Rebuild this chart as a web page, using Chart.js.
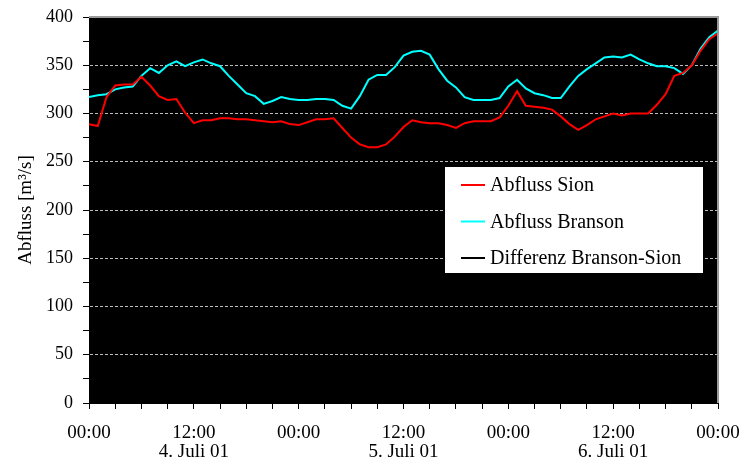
<!DOCTYPE html>
<html>
<head>
<meta charset="utf-8">
<script src="https://cdn.jsdelivr.net/npm/chart.js@4/dist/chart.umd.min.js"></script>
<style>
  body { margin: 0; background: #fff; }
  canvas { display: block; }
</style>
</head>
<body>
<canvas id="chart" width="743" height="465"></canvas>
<script>
// hours since 3 July 00:00, one reading per hour
const hours = Array.from({ length: 73 }, (_, i) => i);

const sion = [
  289, 287, 317, 329, 330, 330, 338, 329, 318, 314, 315, 301, 290,
  293, 293, 295, 295, 294, 294, 293, 292, 291, 292, 289, 288,
  291, 294, 294, 295, 285, 275, 268, 265, 265, 268, 276, 286,
  293, 291, 290, 290, 288, 285, 290, 292, 292, 292, 296, 308,
  323, 308, 307, 306, 304, 297, 289, 283, 288, 294, 297, 300,
  298, 300, 300, 300, 309, 320, 339, 342, 350, 365, 377, 383
];
const branson = [
  317, 319, 320, 325, 327, 328, 339, 347, 342, 350, 354, 349, 353,
  356, 352, 349, 339, 330, 321, 318, 310, 313, 317, 315, 314,
  314, 315, 315, 314, 308, 305, 318, 335, 340, 340, 348, 360,
  364, 365, 361, 346, 334, 327, 317, 314, 314, 314, 316, 328,
  335, 326, 321, 319, 316, 316, 328, 339, 346, 352, 358, 359,
  358, 361, 356, 352, 349, 349, 347, 341, 350, 367, 379, 386
];
const differenz = []; // black on black, not visible in the original

const seriesNames = ['Abfluss Sion', 'Abfluss Branson', 'Differenz Branson-Sion'];
const timeLabels = ['00:00', '12:00'];
const dayLabels = ['4. Juli 01', '5. Juli 01', '6. Juli 01'];

const FONT = '"Liberation Serif", "Times New Roman", serif';
Chart.defaults.font.family = FONT;
Chart.defaults.color = '#000';

const toXY = arr => arr.map((v, i) => ({ x: hours[i], y: v }));

// black plot area + grey frame on top/right
const plotFrame = {
  id: 'plotFrame',
  beforeDraw(chart) {
    const { ctx, chartArea: a } = chart;
    ctx.save();
    ctx.fillStyle = '#000';
    ctx.fillRect(a.left, a.top, a.right - a.left, a.bottom - a.top);
    ctx.restore();
  },
  afterDraw(chart) {
    const { ctx, chartArea: a } = chart;
    ctx.save();
    ctx.strokeStyle = '#9a9a9a';
    ctx.lineWidth = 2;
    ctx.beginPath();
    ctx.moveTo(a.left, a.top);
    ctx.lineTo(a.right, a.top);
    ctx.lineTo(a.right, a.bottom);
    ctx.stroke();
    ctx.restore();
  }
};

// white legend box inside the plot
const boxLegend = {
  id: 'boxLegend',
  afterDraw(chart) {
    const { ctx, chartArea: a } = chart;
    const x0 = a.left + 356, y0 = a.top + 150;
    ctx.save();
    ctx.fillStyle = '#fff';
    ctx.fillRect(x0, y0, 258, 106);
    ctx.font = '20px ' + FONT;
    ctx.textBaseline = 'middle';
    chart.data.datasets.forEach((ds, i) => {
      const y = y0 + 18 + i * 36.5;
      ctx.strokeStyle = ds.borderColor;
      ctx.lineWidth = 2;
      ctx.beginPath();
      ctx.moveTo(x0 + 16, y);
      ctx.lineTo(x0 + 40, y);
      ctx.stroke();
      ctx.fillStyle = '#000';
      ctx.fillText(ds.label, x0 + 45, y + 1);
    });
    ctx.restore();
  }
};

new Chart(document.getElementById('chart').getContext('2d'), {
  type: 'line',
  data: {
    datasets: [
      { label: seriesNames[0], data: toXY(sion), borderColor: '#ff0000' },
      { label: seriesNames[1], data: toXY(branson), borderColor: '#00ffff' },
      { label: seriesNames[2], data: toXY(differenz), borderColor: '#000000' }
    ]
  },
  options: {
    responsive: false,
    animation: false,
    layout: { padding: { top: 17, right: 25, left: 0, bottom: 0 } },
    elements: {
      point: { radius: 0 },
      line: { borderWidth: 2, tension: 0 }
    },
    plugins: { legend: { display: false }, tooltip: { enabled: false } },
    scales: {
      x: {
        type: 'linear',
        min: 0, max: 72,
        afterFit: s => { s.height = 62; s.paddingLeft = 0; s.paddingRight = 0; },
        border: { color: '#000', width: 1 },
        grid: { drawOnChartArea: false, tickLength: 6, tickColor: '#000' },
        ticks: {
          stepSize: 3,
          autoSkip: false,
          maxRotation: 0,
          padding: 15,
          font: { size: 19, lineHeight: 1.0 },
          callback: v => {
            if (v % 12 !== 0) return '';
            if (v % 24 === 0) return timeLabels[0];
            return [timeLabels[1], dayLabels[(v - 12) / 24]];
          }
        }
      },
      y: {
        min: 0, max: 400,
        afterFit: s => { s.width = 89; s.paddingTop = 0; s.paddingBottom = 0; },
        border: { color: '#000', width: 1, dash: [3, 2] },
        grid: {
          tickLength: 6,
          tickColor: '#000',
          color: c => (c.tick && c.tick.value % 50 === 0 && c.tick.value > 0 && c.tick.value < 400)
            ? '#bdbdbd' : 'rgba(0,0,0,0)'
        },
        ticks: {
          stepSize: 25,
          autoSkip: false,
          padding: 10,
          font: { size: 18 },
          callback: v => (v % 50 === 0 ? String(v) : '')
        },
        title: {
          display: true,
          text: 'Abfluss [m³/s]',
          font: { size: 19, lineHeight: 1.0 },
          padding: { top: 17, bottom: 0 }
        }
      }
    }
  },
  plugins: [plotFrame, boxLegend]
});
</script>
</body>
</html>
